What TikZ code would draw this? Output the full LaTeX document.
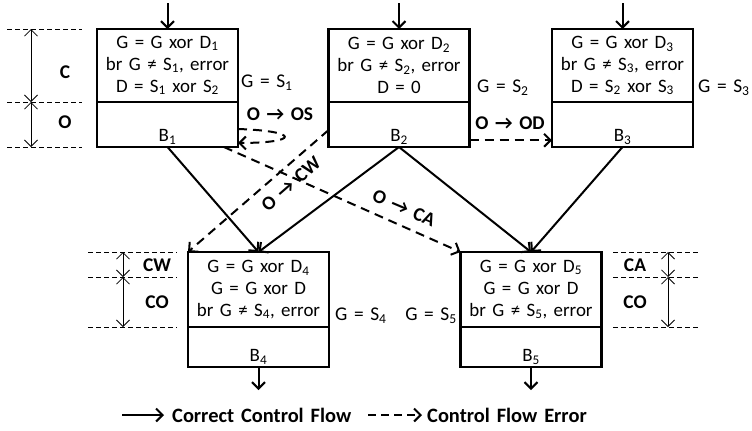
\documentclass[tikz,border=0pt]{standalone}
\usepackage{fontspec}
\setmainfont{Carlito}[WordSpace=1.5]
\usetikzlibrary{positioning,calc,arrows.meta}
\tikzset{
  blkc/.style={draw, line width=2.5bp, minimum width=141bp, minimum height=#1,
    inner sep=0pt, outer sep=0pt, align=center, font=\fontsize{19}{22}\selectfont},
  blko/.style={draw, line width=2.5bp, minimum width=141bp, text height=#1,
    text depth=5.5bp, inner sep=0pt, outer sep=0pt, font=\fontsize{19}{22}\selectfont},
  txt/.style={inner sep=0pt, font=\fontsize{19.5}{22}\selectfont},
  lbl/.style={inner sep=1bp, font=\bfseries\fontsize{19.5}{22}\selectfont},
  flow/.style={->, line width=2bp},
  err/.style={flow, dash pattern=on 9bp off 6bp},
  dim/.style={line width=0.8bp, dash pattern=on 5bp off 3bp},
  dimarr/.style={<->, line width=0.8bp}
}
\begin{document}
\begin{tikzpicture}[x=1bp, y=-1bp, >={Straight Barb[length=6.5bp,width=13bp]}]
\useasboundingbox (0,0) rectangle (752,430);
% 上排
\node[blkc=73bp] (b1c) at (167.5,65.5) {G = G xor D\textsubscript{1}\\br G ≠ S\textsubscript{1}, error\\D = S\textsubscript{1} xor S\textsubscript{2}};
\node[blko=39.5bp, below=0pt of b1c] (b1o) {B\textsubscript{1}};
\node[blkc=73bp] (b2c) at (399,65.5) {G = G xor D\textsubscript{2}\\br G ≠ S\textsubscript{2}, error\\D = 0};
\node[blko=39.5bp, below=0pt of b2c] (b2o) {B\textsubscript{2}};
\node[blkc=73bp] (b3c) at (622.5,65.5) {G = G xor D\textsubscript{3}\\br G ≠ S\textsubscript{3}, error\\D = S\textsubscript{2} xor S\textsubscript{3}};
\node[blko=39.5bp, below=0pt of b3c] (b3o) {B\textsubscript{3}};
% 下排
\node[blkc=75bp] (b4c) at (258.5,289.5) {G = G xor D\textsubscript{4}\\G = G xor D\\br G ≠ S\textsubscript{4}, error};
\node[blko=34.5bp, below=0pt of b4c] (b4o) {B\textsubscript{4}};
\node[blkc=75bp] (b5c) at (531,289.5) {G = G xor D\textsubscript{5}\\G = G xor D\\br G ≠ S\textsubscript{5}, error};
\node[blko=34.5bp, below=0pt of b5c] (b5o) {B\textsubscript{5}};

\node[txt, anchor=base west] (g1) at (241,87) {G = S\textsubscript{1}};
\node[txt, anchor=base west] (g2) at (477,92) {G = S\textsubscript{2}};
\node[txt, anchor=base west] (g3) at (698,92) {G = S\textsubscript{3}};
\node[txt, anchor=base west] (g4) at (335,320) {G = S\textsubscript{4}};
\node[txt, anchor=base east] (g5) at (457,320) {G = S\textsubscript{5}};

% 入口和出口
\coordinate (in1) at (b1c.north |- 0,3);
\coordinate (in2) at (b2c.north |- 0,3);
\coordinate (in3) at (b3c.north |- 0,3);
\coordinate (out4) at (b4o.south |- 0,390);
\coordinate (out5) at (b5o.south |- 0,390);
\draw[flow] (in1) -- (b1c.north);
\draw[flow] (in2) -- (b2c.north);
\draw[flow] (in3) -- (b3c.north);
\draw[flow] (b4o.south) -- (out4);
\draw[flow] (b5o.south) -- (out5);

% 正确的控制流
\draw[flow] (b1o.south) -- (b4c.north);
\draw[flow] (b2o.south) -- (b4c.north);
\draw[flow] (b2o.south) -- (b5c.north);
\draw[flow] (b3o.south) -- (b5c.north);

% 控制流错误
\draw[err] ($(b1o.east)!0.2!(b1o.south east)$) .. controls +(62,2) and +(62,0) .. ($(b1o.east)!0.82!(b1o.south east)$);
\node[lbl] (eos) at (280,114) {O → OS};
\draw[err] ($(b2o.east)!0.7!(b2o.south east)$) -- ($(b3o.west)!0.7!(b3o.south west)$);
\node[lbl] (eod) at (510,123) {O → OD};
\draw[err] ($(b2o.west)!0.25!(b2o.south west)$) -- (b4c.north west);
\node[lbl, rotate=41] (ecw) at (291,184) {O → CW};
\draw[err] ($(b1o.south)!0.8!(b1o.south east)$) -- (b5c.north west);
\node[lbl, rotate=-23] (eca) at (404,208) {O → CA};

% 左边的 C/O
\draw[dim] (7,0 |- b1c.north) -- (82,0 |- b1c.north);
\draw[dim] (7,0 |- b1c.south) -- (82,0 |- b1c.south);
\draw[dim] (7,0 |- b1o.south) -- (82,0 |- b1o.south);
\draw[dimarr] (31,0 |- b1c.north) -- (31,0 |- b1c.south);
\draw[dimarr] (31,0 |- b1o.north) -- (31,0 |- b1o.south);
\node[lbl] (lc) at (65,72) {C};
\node[lbl] (lo) at (65,122) {O};

% CW/CO
\draw[dim] (88,0 |- b4c.north) -- (177,0 |- b4c.north);
\draw[dim] (88,277) -- (177,277);
\draw[dim] (88,0 |- b4o.north) -- (177,0 |- b4o.north);
\draw[dimarr] (123,0 |- b4c.north) -- (123,277);
\draw[dimarr] (123,277) -- (123,0 |- b4o.north);
\node[lbl] (lcw) at (157,265) {CW};
\node[lbl] (lco1) at (157,302) {CO};

% CA/CO
\draw[dim] (613,0 |- b5c.north) -- (700,0 |- b5c.north);
\draw[dim] (613,277) -- (700,277);
\draw[dim] (613,0 |- b5o.north) -- (700,0 |- b5o.north);
\draw[dimarr] (668,0 |- b5c.north) -- (668,277);
\draw[dimarr] (668,277) -- (668,0 |- b5o.north);
\node[lbl] (lca) at (635,265) {CA};
\node[lbl] (lco2) at (635,302) {CO};

% 图例
\coordinate (l1a) at (122,415);
\coordinate (l1b) at (164,415);
\coordinate (l2a) at (368,415);
\coordinate (l2b) at (422,415);
\draw[flow] (l1a) -- (l1b);
\draw[err, dash pattern=on 8bp off 5bp] (l2a) -- (l2b);
\node[lbl, anchor=west, inner sep=0pt, font=\bfseries\fontsize{20.5}{22}\selectfont] (lg1) at (172,415) {Correct Control Flow};
\node[lbl, anchor=west, inner sep=0pt, font=\bfseries\fontsize{20.5}{22}\selectfont] (lg2) at (427,415) {Control Flow Error};
\end{tikzpicture}
\end{document}
